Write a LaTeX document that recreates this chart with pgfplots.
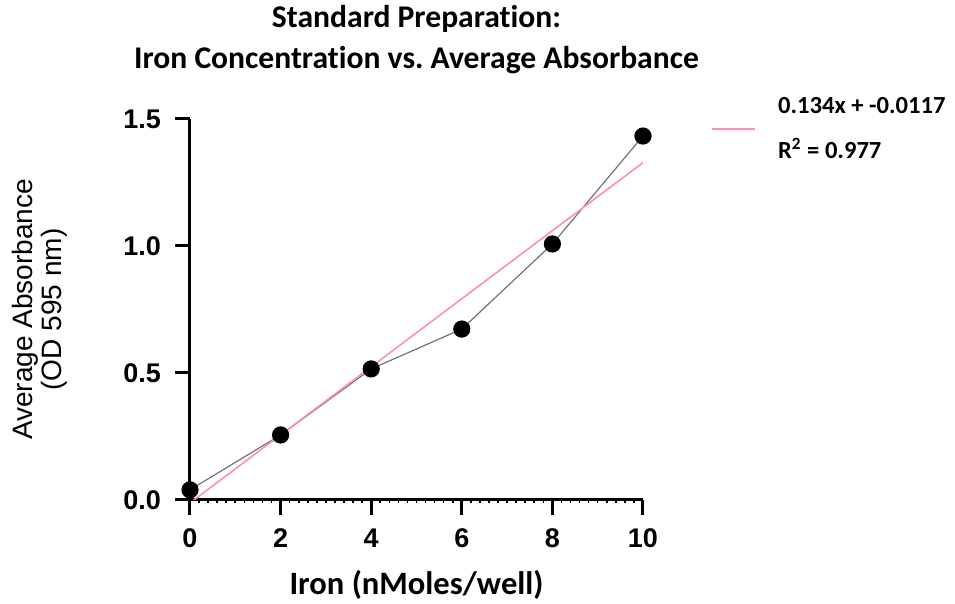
\documentclass[border=0pt]{standalone}
\usepackage{pgfplots}
\pgfplotsset{compat=1.18}
\usepackage{fontspec}
\setmainfont[Ligatures={NoCommon}]{Carlito}
\newfontfamily\arialfont{Liberation Sans}
\definecolor{fitpink}{RGB}{255,140,190}
\frenchspacing
\pgfplotsset{longline/.style={legend image code/.code={\draw[##1] (0pt,0pt) -- (21.5pt,0pt);}}}
\begin{document}
\begin{tikzpicture}
\begin{axis}[
  at={(0,0)}, anchor=south west,
  width=226.5pt, height=190.5pt, scale only axis,
  xmin=0, xmax=10, ymin=0, ymax=1.5,
  axis x line=bottom, axis y line=left,
  axis line style={line width=1.5pt, -},
  xtick={0,2,4,6,8,10},
  ytick={0,0.5,1,1.5},
  yticklabel style={xshift=-3.5pt, /pgf/number format/.cd, fixed, fixed zerofill, precision=1},
  xticklabel style={yshift=-3.5pt},
  /pgf/number format/assume math mode=true,
  ticklabel style={font=\arialfont\bfseries\fontsize{13.5}{13.5}\selectfont},
  tick style={line width=1.5pt, black},
  tick align=outside,
  major tick length=7.5pt,
  minor x tick num=9,
  minor tick length=1.5pt,
  minor tick style={line width=0.8pt},
  xlabel={\bfseries Iron (nMoles/well)},
  xlabel style={font=\fontsize{16.3}{16.3}\selectfont, yshift=-4pt},
  ylabel={Average Absorbance\\(OD 595 nm)},
  ylabel style={font=\arialfont\fontsize{14}{14.5}\selectfont, align=center, yshift=21pt},
  title={Standard Preparation:\\Iron Concentration vs. Average Absorbance},
  title style={font=\bfseries\fontsize{15.8}{20.5}\selectfont, align=center, yshift=13pt},
  legend style={at={(rel axis cs:1.137,1.08)}, anchor=north west, draw=none, fill=none,
    font=\bfseries\fontsize{12.3}{22.5}\selectfont, nodes={align=left}},
  legend cell align=left,
]
\addplot[color=gray!90!black, line width=0.6pt, mark=*, mark size=4pt, mark options={fill=black, draw=black}, forget plot]
  coordinates {(0,0.040) (2,0.256) (4,0.516) (6,0.673) (8,1.008) (10,1.433)};
\addplot[color=fitpink, line width=0.8pt, longline]
  coordinates {(0,-0.0117) (10,1.3283)};
\addlegendentry{\hspace{9pt}0.134x + -0.0117\\\hspace{9pt}R\textsuperscript{2} = 0.977}
\end{axis}
\pgfresetboundingbox
\path[use as bounding box] (-95pt,-52pt) rectangle (382.5pt,250pt);
\end{tikzpicture}
\end{document}
